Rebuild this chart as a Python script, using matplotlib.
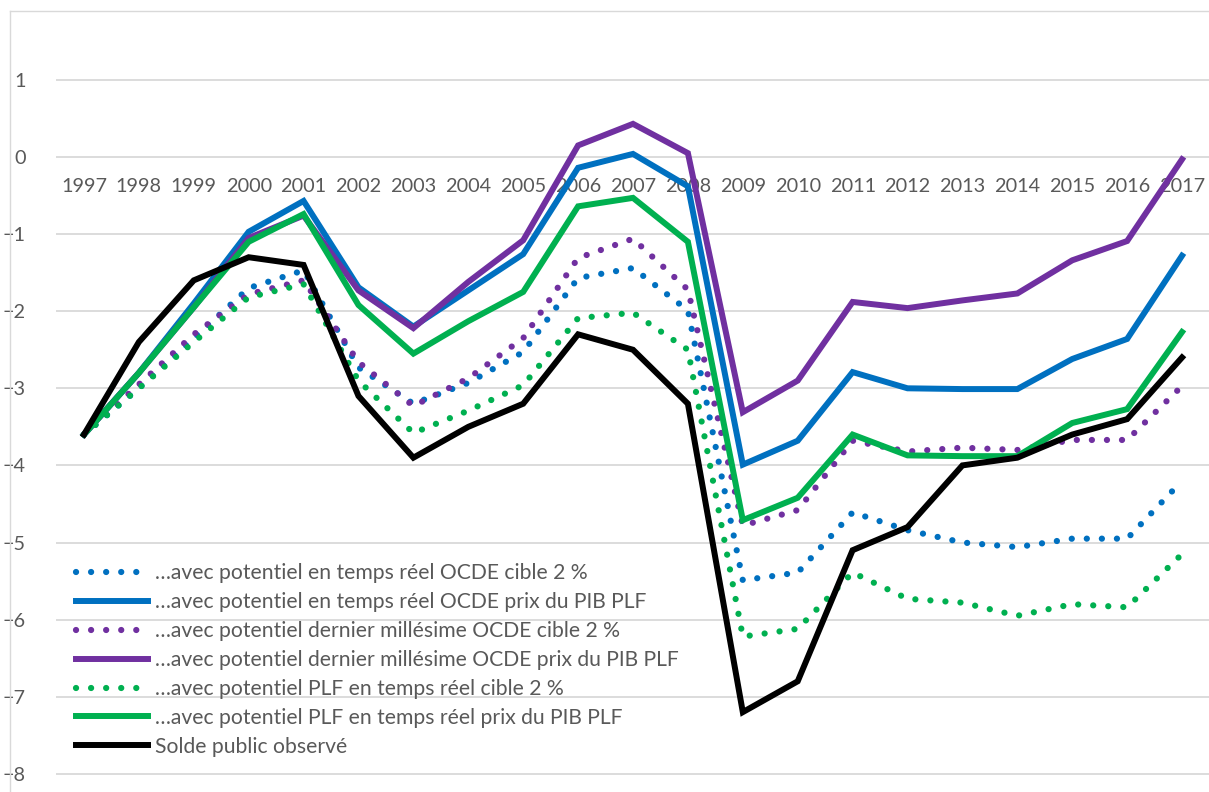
import matplotlib
matplotlib.use("Agg")
import matplotlib.pyplot as plt

years = list(range(1997, 2018))

# solde structurel estimé selon les différentes hypothèses
ocde_rt_cible = [-3.6, -3.0, -2.35, -1.7, -1.47, -2.73, -3.2, -2.93, -2.53, -1.57, -1.44, -1.99,
                 -5.49, -5.39, -4.61, -4.84, -5.0, -5.06, -4.95, -4.95, -4.2]
ocde_rt_pib = [-3.6, -2.8, -1.9, -0.97, -0.57, -1.69, -2.2, -1.73, -1.26, -0.14, 0.04, -0.38,
               -3.99, -3.68, -2.79, -3.0, -3.01, -3.01, -2.62, -2.36, -1.28]
ocde_der_cible = [-3.6, -2.95, -2.3, -1.78, -1.6, -2.66, -3.23, -2.87, -2.35, -1.31, -1.06, -1.72,
                  -4.78, -4.58, -3.68, -3.82, -3.77, -3.8, -3.67, -3.67, -2.97]
ocde_der_pib = [-3.6, -2.8, -1.95, -1.05, -0.76, -1.73, -2.22, -1.62, -1.08, 0.15, 0.43, 0.05,
                -3.31, -2.9, -1.88, -1.96, -1.86, -1.77, -1.34, -1.09, -0.03]
plf_rt_cible = [-3.6, -3.0, -2.4, -1.82, -1.65, -2.9, -3.58, -3.29, -2.96, -2.09, -2.02, -2.5,
                -6.22, -6.12, -5.39, -5.73, -5.78, -5.95, -5.8, -5.84, -5.15]
plf_rt_pib = [-3.6, -2.8, -1.95, -1.1, -0.74, -1.92, -2.55, -2.13, -1.75, -0.64, -0.53, -1.1,
              -4.71, -4.42, -3.6, -3.87, -3.88, -3.88, -3.45, -3.27, -2.27]
solde_observe = [-3.6, -2.4, -1.6, -1.3, -1.4, -3.1, -3.9, -3.5, -3.2, -2.3, -2.5, -3.2,
                 -7.2, -6.8, -5.1, -4.8, -4.0, -3.9, -3.6, -3.4, -2.6]

labels = [
    "…avec potentiel en temps réel OCDE cible 2 %",
    "…avec potentiel en temps réel OCDE prix du PIB PLF",
    "…avec potentiel dernier millésime OCDE cible 2 %",
    "…avec potentiel dernier millésime OCDE prix du PIB PLF",
    "…avec potentiel PLF en temps réel cible 2 %",
    "…avec potentiel PLF en temps réel prix du PIB PLF",
    "Solde public observé",
]

blue, purple, green = "#0070C0", "#7030A0", "#00B050"
series = [
    (ocde_rt_cible, blue, True),
    (ocde_rt_pib, blue, False),
    (ocde_der_cible, purple, True),
    (ocde_der_pib, purple, False),
    (plf_rt_cible, green, True),
    (plf_rt_pib, green, False),
    (solde_observe, "black", False),
]

plt.rcParams["font.family"] = ["Lato", "DejaVu Sans"]
txt = "#595959"

W, H = 1209, 792
fig = plt.figure(figsize=(W / 100, H / 100), dpi=100)
ax = fig.add_axes([56.5 / W, 0, (1209.5 - 56.5) / W, (H - 11) / H])

for vals, col, dotted in series:
    if dotted:
        ax.plot(years, vals, color=col, lw=4.5, linestyle=(0, (0.01, 2.4)),
                dash_capstyle="round", zorder=3)
    else:
        ax.plot(years, vals, color=col, lw=4.3, solid_joinstyle="miter", zorder=3)

# legend uses the same artists
handles = ax.get_lines()
leg = fig.legend(handles, labels, loc="upper left", bbox_to_anchor=(68 / W, 1 - 555 / H),
                 frameon=False, fontsize=15.2, handlelength=3.4, handletextpad=0.3,
                 labelspacing=0.42, labelcolor=txt, borderaxespad=0)

ax.set_xlim(1996.5, 2017.5)
ax.set_ylim((157 - 792) / 77.1, (157 - 11) / 77.1)
ax.set_yticks(range(-8, 2))
ax.set_xticks(years)
ax.set_xticklabels([str(y) for y in years])
ax.grid(axis="y", color="#D9D9D9", lw=1.3, zorder=0)
ax.tick_params(length=0, labelsize=14.3, colors=txt)
ax.tick_params(axis="y", pad=22)
for s in ax.spines.values():
    s.set_visible(False)
ax.spines["bottom"].set_position(("data", 0))
ax.xaxis.set_tick_params(pad=15)
for lab in ax.get_xticklabels():
    lab.set_zorder(1)

# chart border
fig.add_artist(plt.Line2D([10 / W, 10 / W], [0, 1 - 11 / H], color="#D9D9D9", lw=1))
fig.add_artist(plt.Line2D([10 / W, 1], [1 - 11 / H, 1 - 11 / H], color="#D9D9D9", lw=1))

fig.savefig("out.png", dpi=100)
